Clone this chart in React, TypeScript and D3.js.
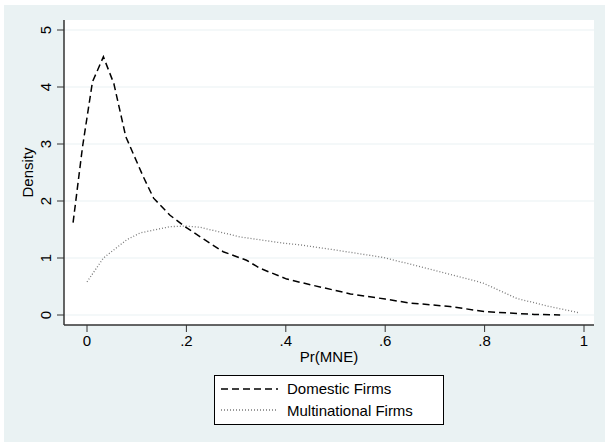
import React from "react";
import * as d3 from "d3";

const domesticX = [-0.028, -0.009, 0.011, 0.033, 0.054, 0.078, 0.113, 0.134, 0.167, 0.197, 0.235, 0.274, 0.321, 0.348, 0.402, 0.45, 0.53, 0.6, 0.65, 0.73, 0.8, 0.9, 0.952];
const domesticY = [1.62, 2.95, 4.09, 4.53, 4.06, 3.13, 2.43, 2.05, 1.75, 1.55, 1.33, 1.11, 0.96, 0.82, 0.63, 0.53, 0.37, 0.28, 0.21, 0.15, 0.06, 0.01, 0.0];
const multiX = [0, 0.033, 0.08, 0.107, 0.167, 0.2, 0.227, 0.308, 0.395, 0.429, 0.5, 0.596, 0.697, 0.797, 0.865, 0.93, 0.99];
const multiY = [0.58, 1.0, 1.32, 1.44, 1.55, 1.56, 1.54, 1.37, 1.26, 1.23, 1.14, 1.01, 0.79, 0.56, 0.29, 0.15, 0.04];
const xTicks = [0, 0.2, 0.4, 0.6, 0.8, 1];
const xTickLabels = ["0", ".2", ".4", ".6", ".8", "1"];
const yTicks = [0, 1, 2, 3, 4, 5];
const seriesNames = ["Domestic Firms", "Multinational Firms"];

const W = 605, H = 442;
const plot = { left: 64, right: 594, top: 20, bottom: 325 };
const FONT = "Arial, 'Liberation Sans', Helvetica, sans-serif";

export default function App() {
  const x = d3.scaleLinear().domain([0, 1]).range([87, 584]);
  const y = d3.scaleLinear().domain([0, 5]).range([315, 30]);
  const line = d3.line<[number, number]>().x(d => x(d[0])).y(d => y(d[1]));
  const dom = line(domesticX.map((v, i) => [v, domesticY[i]] as [number, number])) || "";
  const mul = line(multiX.map((v, i) => [v, multiY[i]] as [number, number])) || "";
  const axisColor = "#333";
  return (
    <svg width={W} height={H} style={{ position: "absolute", left: 0, top: 0 }} fontFamily={FONT}>
      <rect x={0} y={0} width={W} height={H} fill="#ffffff" />
      <rect x={4} y={5} width={W - 4} height={H - 5} fill="#eaf2f3" />
      <rect x={plot.left} y={plot.top} width={plot.right - plot.left} height={plot.bottom - plot.top} fill="#ffffff" />
      {yTicks.map(t => (
        <line key={"g" + t} x1={plot.left} x2={plot.right} y1={y(t)} y2={y(t)} stroke="#eaf2f3" strokeWidth={1.2} />
      ))}
      <path d={mul} fill="none" stroke="#7a7a7a" strokeWidth={1.3} strokeDasharray="1 2" />
      <path d={dom} fill="none" stroke="#000" strokeWidth={1.5} strokeDasharray="7 4" />
      {/* y axis */}
      <line x1={plot.left} x2={plot.left} y1={plot.top} y2={plot.bottom} stroke={axisColor} strokeWidth={1.5} />
      {yTicks.map(t => (
        <g key={"y" + t}>
          <line x1={plot.left - 7} x2={plot.left} y1={y(t)} y2={y(t)} stroke={axisColor} strokeWidth={1} />
          <text transform={`translate(51,${y(t)}) rotate(-90)`} textAnchor="middle" fontSize={15} fill="#000">{t}</text>
        </g>
      ))}
      <text transform={`translate(33,${(plot.top + plot.bottom) / 2}) rotate(-90)`} textAnchor="middle" fontSize={15} fill="#000">Density</text>
      {/* x axis */}
      <line x1={plot.left} x2={plot.right} y1={plot.bottom} y2={plot.bottom} stroke={axisColor} strokeWidth={1.5} />
      {xTicks.map((t, i) => (
        <g key={"x" + t}>
          <line x1={x(t)} x2={x(t)} y1={plot.bottom} y2={plot.bottom + 7} stroke={axisColor} strokeWidth={1} />
          <text x={x(t)} y={346} textAnchor="middle" fontSize={15} fill="#000">{xTickLabels[i]}</text>
        </g>
      ))}
      <text x={(plot.left + plot.right) / 2} y={362} textAnchor="middle" fontSize={15} fill="#000">Pr(MNE)</text>
      {/* legend */}
      <rect x={214.5} y={375.5} width={229} height={49} fill="#ffffff" stroke="#000" strokeWidth={1} />
      <line x1={221} x2={278} y1={389} y2={389} stroke="#000" strokeWidth={1.5} strokeDasharray="7 4" />
      <line x1={221} x2={278} y1={410} y2={410} stroke="#7a7a7a" strokeWidth={1.3} strokeDasharray="1 2" />
      <text x={287} y={394} fontSize={15} fill="#000">{seriesNames[0]}</text>
      <text x={287} y={416} fontSize={15} fill="#000">{seriesNames[1]}</text>
    </svg>
  );
}
